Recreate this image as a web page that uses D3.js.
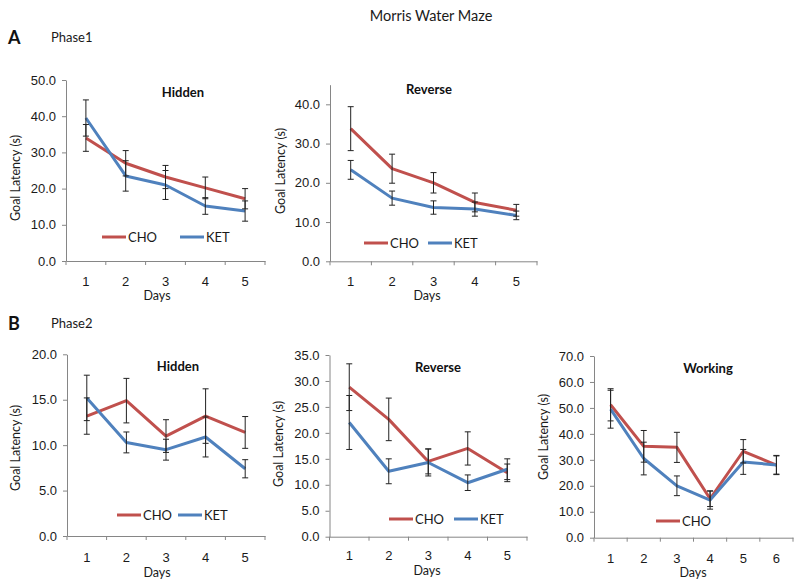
<!DOCTYPE html>
<html>
<head>
<meta charset="utf-8">
<script src="https://cdn.jsdelivr.net/npm/d3@7"></script>
<style>
  html, body { margin: 0; padding: 0; background: #fff; }
  svg { display: block; font-family: Lato, "Open Sans", sans-serif; }
</style>
</head>
<body>
<svg id="chart" width="800" height="587"></svg>
<script>
// ---------------- DATA ----------------
const days5 = [1, 2, 3, 4, 5];
const days6 = [1, 2, 3, 4, 5, 6];

// Phase 1 – Hidden
const p1HiddenCHO    = [34.0, 27.0, 23.2, 20.2, 17.2];
const p1HiddenCHOErr = [3.7, 3.5, 3.2, 3.0, 2.8];
const p1HiddenKET    = [39.5, 23.5, 21.0, 15.2, 13.8];
const p1HiddenKETErr = [5.0, 4.2, 4.0, 2.3, 2.8];

// Phase 1 – Reverse
const p1ReverseCHO    = [33.8, 23.6, 20.0, 15.0, 13.0];
const p1ReverseCHOErr = [5.6, 3.7, 2.6, 2.4, 1.5];
const p1ReverseKET    = [23.3, 16.1, 13.7, 13.3, 11.7];
const p1ReverseKETErr = [2.4, 1.8, 1.7, 1.8, 1.1];

// Phase 2 – Hidden
const p2HiddenCHO    = [13.2, 14.9, 11.0, 13.2, 11.4];
const p2HiddenCHOErr = [2.0, 2.45, 1.8, 3.0, 1.75];
const p2HiddenKET    = [15.2, 10.3, 9.5, 10.9, 7.4];
const p2HiddenKETErr = [2.5, 1.15, 1.15, 2.2, 1.0];

// Phase 2 – Reverse
const p2ReverseCHO    = [28.8, 22.6, 14.5, 17.0, 12.3];
const p2ReverseCHOErr = [4.5, 4.1, 2.4, 3.2, 1.7];
const p2ReverseKET    = [22.0, 12.6, 14.3, 10.4, 13.0];
const p2ReverseKETErr = [5.2, 2.4, 2.6, 1.5, 2.0];

// Phase 2 – Working
const p2WorkingCHO    = [51.2, 35.2, 34.8, 15.0, 33.3, 28.0];
const p2WorkingCHOErr = [6.2, 6.1, 5.8, 3.0, 4.5, 3.7];
const p2WorkingKET    = [49.5, 30.5, 20.0, 14.5, 29.2, 28.0];
const p2WorkingKETErr = [7.3, 6.3, 3.8, 3.5, 4.8, 3.5];

const seriesNames = ["CHO", "KET"];
const colors = { CHO: "#C0504D", KET: "#4F81BD" };
const yTicksP1Hidden = [0, 10, 20, 30, 40, 50];
const yTicksP1Reverse = [0, 10, 20, 30, 40];
const yTicksP2Hidden = [0, 5, 10, 15, 20];
const yTicksP2Reverse = [0, 5, 10, 15, 20, 25, 30, 35];
const yTicksP2Working = [0, 10, 20, 30, 40, 50, 60, 70];

// ---------------- LAYOUT ----------------
const panels = [
  { title: "Hidden", days: days5, cho: p1HiddenCHO, choErr: p1HiddenCHOErr, ket: p1HiddenKET, ketErr: p1HiddenKETErr,
    yMax: 50, ticks: yTicksP1Hidden, x0: 66, x1: 265, y0: 261, y1: 80,
    titleX: 183, titleY: 92, ylabX: 15, ylabY: 178, daysX: 157, daysY: 295, tickLabY: 281,
    legend: [{ name: "CHO", x: 102, y: 237 }, { name: "KET", x: 180, y: 237 }] },
  { title: "Reverse", days: days5, cho: p1ReverseCHO, choErr: p1ReverseCHOErr, ket: p1ReverseKET, ketErr: p1ReverseKETErr,
    yMax: 45, ticks: yTicksP1Reverse, x0: 330, x1: 537, y0: 261.3, y1: 84.7,
    titleX: 429, titleY: 89, ylabX: 280, ylabY: 171, daysX: 427, daysY: 295, tickLabY: 281,
    legend: [{ name: "CHO", x: 364, y: 243 }, { name: "KET", x: 428, y: 243 }] },
  { title: "Hidden", days: days5, cho: p2HiddenCHO, choErr: p2HiddenCHOErr, ket: p2HiddenKET, ketErr: p2HiddenKETErr,
    yMax: 20, ticks: yTicksP2Hidden, x0: 67, x1: 265, y0: 536, y1: 354.3,
    titleX: 178, titleY: 366, ylabX: 15, ylabY: 448, daysX: 157, daysY: 572, tickLabY: 557,
    legend: [{ name: "CHO", x: 117, y: 515 }, { name: "KET", x: 178, y: 515 }] },
  { title: "Reverse", days: days5, cho: p2ReverseCHO, choErr: p2ReverseCHOErr, ket: p2ReverseKET, ketErr: p2ReverseKETErr,
    yMax: 35, ticks: yTicksP2Reverse, x0: 329.5, x1: 527, y0: 536.7, y1: 355,
    titleX: 438, titleY: 367, ylabX: 278, ylabY: 444, daysX: 427, daysY: 570, tickLabY: 555,
    legend: [{ name: "CHO", x: 389, y: 519 }, { name: "KET", x: 454, y: 519 }] },
  { title: "Working", days: days6, cho: p2WorkingCHO, choErr: p2WorkingCHOErr, ket: p2WorkingKET, ketErr: p2WorkingKETErr,
    yMax: 70, ticks: yTicksP2Working, x0: 594, x1: 793, y0: 537.7, y1: 356,
    titleX: 708, titleY: 368, ylabX: 543, ylabY: 437, daysX: 693, daysY: 572, tickLabY: 558,
    legend: [{ name: "CHO", x: 656, y: 521 }] }
];

const svg = d3.select("#chart");
const axisColor = "#868686";
const textColor = "#1a1a1a";

// Header texts
svg.append("text").attr("x", 431).attr("y", 15).attr("text-anchor", "middle")
  .attr("dominant-baseline", "central").attr("font-size", 14.5).attr("fill", textColor).text("Morris Water Maze");
[["A", "Phase1", 37], ["B", "Phase2", 323]].forEach(([l, p, y]) => {
  svg.append("text").attr("x", 8).attr("y", y).attr("dominant-baseline", "central")
    .attr("font-size", 18).attr("font-weight", "bold").attr("fill", "#111").text(l);
  svg.append("text").attr("x", 51).attr("y", y).attr("dominant-baseline", "central")
    .attr("font-size", 13).attr("fill", textColor).text(p);
});

panels.forEach(p => {
  const g = svg.append("g");
  const x = d3.scaleBand().domain(p.days).range([p.x0, p.x1]).padding(0);
  const y = d3.scaleLinear().domain([0, p.yMax]).range([p.y0, p.y1]);
  const cx = d => x(d) + x.bandwidth() / 2;

  // Y axis
  const yAxis = g.append("g").attr("transform", `translate(${p.x0},0)`)
    .call(d3.axisLeft(y).tickValues(p.ticks).tickFormat(d3.format(".1f")).tickSize(4).tickPadding(6).tickSizeOuter(0));
  yAxis.select(".domain").attr("stroke", axisColor);
  yAxis.selectAll(".tick line").attr("stroke", axisColor);
  yAxis.selectAll(".tick text").attr("font-size", 13).attr("fill", textColor);

  // X axis: line + boundary ticks + centered labels
  const xAxis = g.append("g").attr("transform", `translate(0,${p.y0})`)
    .call(d3.axisBottom(x).tickSize(0).tickPadding(0).tickSizeOuter(0));
  xAxis.select(".domain").attr("stroke", axisColor);
  xAxis.selectAll(".tick text").attr("font-size", 13).attr("fill", textColor)
    .attr("y", p.tickLabY - p.y0).attr("dy", "0.35em");
  const bounds = p.days.map(d => x(d)).concat([x(p.days[p.days.length - 1]) + x.bandwidth()]);
  g.selectAll(".btick").data(bounds).enter().append("line")
    .attr("x1", d => d).attr("x2", d => d).attr("y1", p.y0).attr("y2", p.y0 + 4)
    .attr("stroke", axisColor);

  // Labels
  g.append("text").attr("transform", `translate(${p.ylabX},${p.ylabY}) rotate(-90)`)
    .attr("text-anchor", "middle").attr("dominant-baseline", "central")
    .attr("font-size", 12.5).attr("fill", textColor).text("Goal Latency (s)");
  g.append("text").attr("x", p.daysX).attr("y", p.daysY).attr("text-anchor", "middle")
    .attr("dominant-baseline", "central").attr("font-size", 12.5).attr("fill", textColor).text("Days");
  g.append("text").attr("x", p.titleX).attr("y", p.titleY).attr("text-anchor", "middle")
    .attr("dominant-baseline", "central").attr("font-size", 13).attr("font-weight", "bold")
    .attr("fill", "#111").text(p.title);

  // Series
  const line = d3.line().x(d => cx(d.day)).y(d => y(d.v));
  const series = [
    { name: "CHO", vals: p.cho, errs: p.choErr },
    { name: "KET", vals: p.ket, errs: p.ketErr }
  ].map(s => ({ name: s.name, pts: p.days.map((d, i) => ({ day: d, v: s.vals[i], e: s.errs[i] })) }));

  series.forEach(s => {
    g.append("path").datum(s.pts).attr("d", line).attr("fill", "none")
      .attr("stroke", colors[s.name]).attr("stroke-width", 3).attr("stroke-linejoin", "round");
  });
  series.forEach(s => {
    const eb = g.append("g").attr("stroke", "#222").attr("stroke-width", 1);
    s.pts.forEach(pt => {
      const px = cx(pt.day);
      eb.append("line").attr("x1", px).attr("x2", px).attr("y1", y(pt.v - pt.e)).attr("y2", y(pt.v + pt.e));
      [pt.v - pt.e, pt.v + pt.e].forEach(v => {
        eb.append("line").attr("x1", px - 3).attr("x2", px + 3).attr("y1", y(v)).attr("y2", y(v));
      });
    });
  });

  // Legend
  p.legend.forEach(l => {
    g.append("line").attr("x1", l.x).attr("x2", l.x + 24).attr("y1", l.y).attr("y2", l.y)
      .attr("stroke", colors[l.name]).attr("stroke-width", 3);
    g.append("text").attr("x", l.x + 26).attr("y", l.y).attr("dominant-baseline", "central")
      .attr("font-size", 13).attr("fill", textColor).text(l.name);
  });
});
</script>
</body>
</html>
